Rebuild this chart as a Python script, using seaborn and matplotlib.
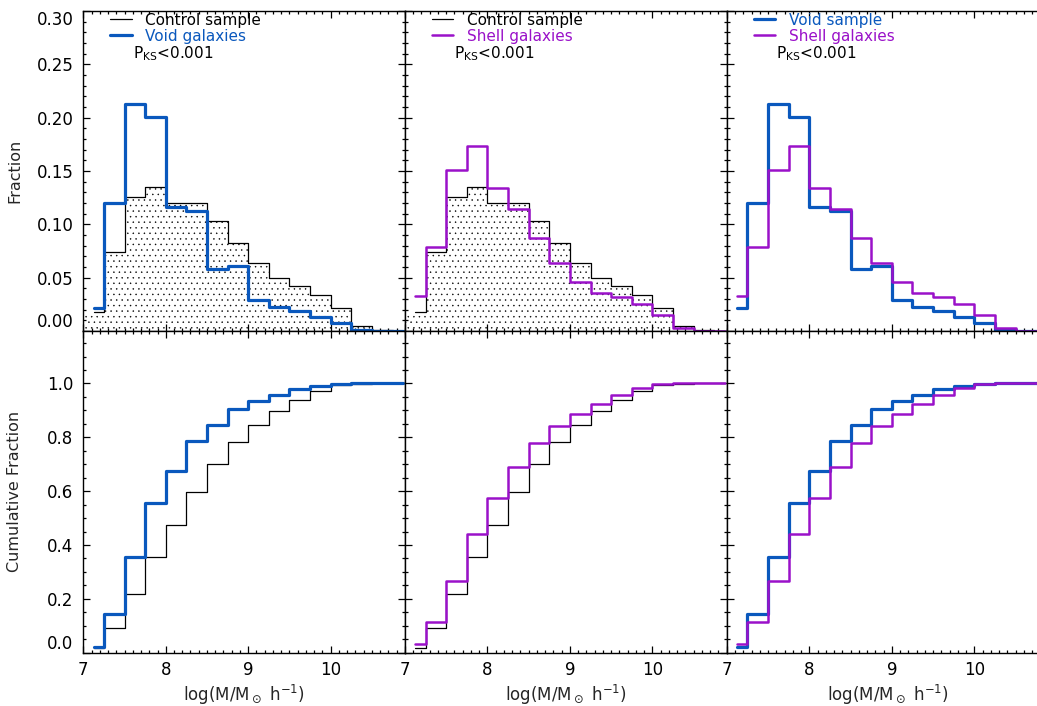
import numpy as np
import matplotlib
matplotlib.use("Agg")
import matplotlib.pyplot as plt
import seaborn as sns
from matplotlib.ticker import MultipleLocator, FormatStrFormatter
from matplotlib.lines import Line2D

# ---------------- data ----------------
mass_centers = [7.125, 7.375, 7.625, 7.875, 8.125, 8.375, 8.625, 8.875,
                9.125, 9.375, 9.625, 9.875, 10.125, 10.375, 10.625, 10.875]
control_frac = [0.0175, 0.0738, 0.126, 0.1347, 0.1203, 0.1197, 0.1034, 0.0828,
                0.0634, 0.050, 0.0422, 0.0338, 0.0213, 0.0047, 0.0005, 0.0]
void_frac = [0.022, 0.120, 0.2125, 0.201, 0.1166, 0.1125, 0.058, 0.061,
             0.029, 0.0228, 0.019, 0.0134, 0.0078, 0.001, 0.0, 0.0]
shell_frac = [0.033, 0.079, 0.1506, 0.1734, 0.1338, 0.1144, 0.0875, 0.0634,
              0.0456, 0.0353, 0.0322, 0.025, 0.0153, 0.003, 0.0, 0.0]

x_ticks = [7, 8, 9, 10]
frac_ticks = [0.00, 0.05, 0.10, 0.15, 0.20, 0.25, 0.30]
cum_ticks = [0.0, 0.2, 0.4, 0.6, 0.8, 1.0]
pks_text = r"P$_{\mathrm{KS}}$<0.001"
x_label = r"log(M/M$_\odot$ h$^{-1}$)"

BLUE = "#0a58bd"
PURPLE = "#9a11c9"
BLACK = "#000000"

series = {
    "control": (control_frac, BLACK, 0.9),
    "void": (void_frac, BLUE, 2.3),
    "shell": (shell_frac, PURPLE, 1.8),
}
panels = [
    (["control", "void"], ["Control sample", "Void galaxies"], True),
    (["control", "shell"], ["Control sample", "Shell galaxies"], True),
    (["void", "shell"], ["Void sample", "Shell galaxies"], False),
]

# ---------------- style ----------------
sns.set_style("ticks")
plt.rcParams["font.family"] = ["DejaVu Sans"]
plt.rcParams["mathtext.fontset"] = "dejavusans"
plt.rcParams["hatch.linewidth"] = 0.3
plt.rcParams["hatch.color"] = "black"

fig = plt.figure(figsize=(10.37, 7.06), dpi=100)
lefts = [0.0803, 0.3905, 0.7009]
width = 0.3102
top_b, top_h = 0.5312, 0.4532
bot_b, bot_h = 0.0755, 0.4557
XMIN, XMAX = 7.0, 10.9

def style_axis(ax):
    ax.set_xlim(XMIN, XMAX)
    ax.xaxis.set_major_locator(MultipleLocator(1))
    ax.xaxis.set_minor_locator(MultipleLocator(0.1))
    ax.tick_params(which="both", direction="in", top=True, right=True,
                   colors="black", width=0.9, labelsize=12)
    ax.tick_params(which="major", length=5.0)
    ax.tick_params(which="minor", length=2.5)
    ax.tick_params(axis="y", pad=7)
    for s in ax.spines.values():
        s.set_linewidth(1.0)
        s.set_color("black")

for i, (keys, labels, fill_ctrl) in enumerate(panels):
    axt = fig.add_axes([lefts[i], top_b, width, top_h])
    axb = fig.add_axes([lefts[i], bot_b, width, bot_h])

    # ---- top: fractions ----
    if fill_ctrl:
        xs = np.r_[XMIN, mass_centers]
        ys = np.r_[control_frac[0], control_frac]
        axt.fill_between(xs, ys, 0, step="mid", facecolor="none",
                         edgecolor="black", hatch="...", linewidth=0)
    handles = []
    for k in keys:
        vals, col, lw = series[k]
        sns.lineplot(x=mass_centers, y=vals, ax=axt, color=col, linewidth=lw,
                     drawstyle="steps-mid", estimator=None)
        handles.append(Line2D([], [], color=col, linewidth=lw))
    style_axis(axt)
    axt.set_ylim(0, 0.30)
    axt.set_yticks(frac_ticks)
    axt.yaxis.set_minor_locator(MultipleLocator(0.01))
    axt.yaxis.set_major_formatter(FormatStrFormatter("%.2f"))
    axt.set_xticklabels([])
    axt.set_xlabel("")
    axt.set_ylabel("")
    axt.legend(handles, labels, loc="upper left",
               bbox_to_anchor=(0.084, 0.995), frameon=False,
               fontsize=11, handlelength=1.4, handletextpad=0.9,
               labelspacing=0.08, borderpad=0, borderaxespad=0,
               labelcolor=[h.get_color() for h in handles])
    axt.text(0.154, 0.866, pks_text, transform=axt.transAxes,
             fontsize=11, va="center", ha="left", color="black")

    # ---- bottom: cumulative ----
    for k in keys:
        vals, col, lw = series[k]
        cum = np.cumsum(vals) / np.sum(vals)
        sns.lineplot(x=mass_centers, y=cum, ax=axb, color=col, linewidth=lw,
                     drawstyle="steps-mid", estimator=None)
    style_axis(axb)
    axb.set_ylim(0, 1.195)
    axb.set_yticks(cum_ticks)
    axb.yaxis.set_minor_locator(MultipleLocator(0.05))
    axb.yaxis.set_major_formatter(FormatStrFormatter("%.1f"))
    axb.set_xticks(x_ticks)
    axb.set_xticklabels([str(t) for t in x_ticks])
    axb.tick_params(axis="x", pad=6)
    axb.set_xlabel(x_label, fontsize=12, labelpad=3)
    axb.set_ylabel("")

    if i == 0:
        axt.set_ylabel("Fraction", fontsize=11.5)
        axb.set_ylabel("Cumulative Fraction", fontsize=11.5)
        axt.yaxis.set_label_coords(-0.19, 0.5)
        axb.yaxis.set_label_coords(-0.19, 0.5)
        fig.canvas.draw()
        tl = axt.get_yticklabels()
        tl[0].set_va("bottom")
        tl[-1].set_va("top")
        bl = axb.get_yticklabels()
        bl[0].set_va("bottom")
    else:
        axt.set_yticklabels([])
        axb.set_yticklabels([])

fig.savefig("out.png", dpi=100)
